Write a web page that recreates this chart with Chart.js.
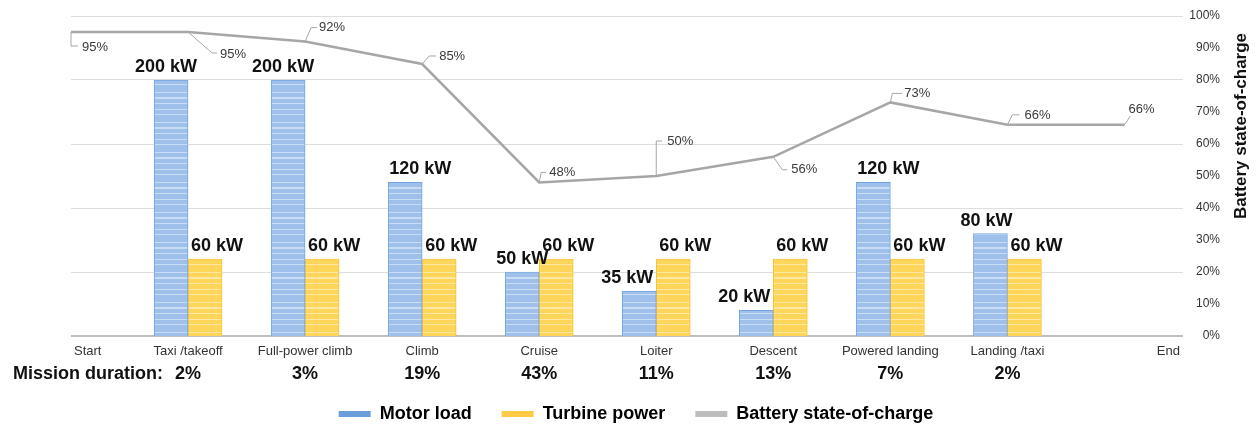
<!DOCTYPE html>
<html>
<head>
<meta charset="utf-8">
<script src="https://cdn.jsdelivr.net/npm/chart.js@4/dist/chart.umd.min.js"></script>
<style>
  html, body { margin: 0; padding: 0; background: #fff; }
  canvas { display: block; }
</style>
</head>
<body>
<canvas id="chart" width="1256" height="425"></canvas>
<script>
const PHASES = [
  'Start',
  'Taxi /takeoff',
  'Full-power climb',
  'Climb',
  'Cruise',
  'Loiter',
  'Descent',
  'Powered landing',
  'Landing /taxi',
  'End',
];
const DURATION = ['', '2%', '3%', '19%', '43%', '11%', '13%', '7%', '2%', ''];
const MOTOR_LOAD = [null, 200, 200, 120, 50, 35, 20, 120, 80, null]; // kW
const TURBINE_POWER = [null, 60, 60, 60, 60, 60, 60, 60, 60, null]; // kW
const BATTERY_SOC = [95, 95, 92, 85, 48, 50, 56, 73, 66, 66]; // %
const SOC_TICKS = ['0%', '10%', '20%', '30%', '40%', '50%', '60%', '70%', '80%', '90%', '100%'];

const FONT = "'Liberation Sans', Arial, Helvetica, sans-serif";
Chart.defaults.font.family = FONT;

// little horizontal-stripe fill like the scanned excel bars
const stripes = (base, light) => {
  const c = document.createElement('canvas');
  c.width = 8;
  c.height = 30;
  const g = c.getContext('2d');
  g.fillStyle = base;
  g.fillRect(0, 0, 8, 30);
  g.fillStyle = light;
  [2, 7, 8, 13, 19, 24].forEach((y) => g.fillRect(0, y, 8, 1));
  return g.createPattern(c, 'repeat');
};

// callout layout for the state-of-charge labels: [elbowDx, elbowDy, leaderLen, textDx, textDy]
const SOC_CALLOUTS = [
  [0, 14, 7, 4, 1],
  [24, 21, 5, 3, 1],
  [6, -14, 6, 2, 0],
  [7, -8, 7, 3, 0],
  [2, -10, 5, 3, 0],
  [0, -35, 6, 5, 0],
  [9, 13, 5, 4, 0],
  [2, -9, 10, 2, 0],
  [5, -10, 7, 5, 1],
  [6, -9, 0, -2, -6],
];
// nudges of the motor load value labels
const MOTOR_LABEL_DX = [0, -5, -5, 15, 0, -12, -12, 15, -4, 0];

const labelsPlugin = {
  id: 'missionLabels',
  afterDatasetsDraw(chart) {
    const { ctx } = chart;
    ctx.save();

    // power values above the bars
    ctx.font = `bold 18px ${FONT}`;
    ctx.fillStyle = '#111';
    ctx.textAlign = 'center';
    ctx.textBaseline = 'middle';
    [0, 1].forEach((di) => {
      const src = di === 0 ? MOTOR_LOAD : TURBINE_POWER;
      chart.getDatasetMeta(di).data.forEach((bar, i) => {
        if (src[i] == null) return;
        const dx = di === 0 ? MOTOR_LABEL_DX[i] : 12;
        ctx.fillText(`${src[i]} kW`, bar.x + dx, bar.y - 13);
      });
    });

    // battery callouts
    ctx.font = `13px ${FONT}`;
    ctx.textAlign = 'left';
    ctx.strokeStyle = '#a6a6a6';
    ctx.lineWidth = 1;
    chart.getDatasetMeta(2).data.forEach((pt, i) => {
      const [ex, ey, len, tx, ty] = SOC_CALLOUTS[i];
      const x1 = pt.x + ex;
      const y1 = pt.y + ey;
      ctx.beginPath();
      ctx.moveTo(pt.x, pt.y);
      ctx.lineTo(x1, y1);
      ctx.lineTo(x1 + len, y1);
      ctx.stroke();
      ctx.fillStyle = '#3a3a3a';
      ctx.fillText(`${BATTERY_SOC[i]}%`, x1 + len + tx, y1 + ty);
    });
    ctx.restore();
  },
  afterDraw(chart) {
    const { ctx, chartArea, scales: { x } } = chart;
    ctx.save();
    ctx.textBaseline = 'middle';

    ctx.font = `13px ${FONT}`;
    ctx.fillStyle = '#333';
    PHASES.forEach((name, i) => {
      let px = x.getPixelForValue(i);
      if (i === 0) {
        ctx.textAlign = 'left';
        px += 3;
      } else if (i === PHASES.length - 1) {
        ctx.textAlign = 'right';
        px = chartArea.right - 3;
      } else {
        ctx.textAlign = 'center';
      }
      ctx.fillText(name, px, chartArea.bottom + 15);
    });

    ctx.font = `bold 18px ${FONT}`;
    ctx.fillStyle = '#111';
    ctx.textAlign = 'left';
    ctx.fillText('Mission duration:', 13, chartArea.bottom + 38);
    ctx.textAlign = 'center';
    DURATION.forEach((d, i) => {
      if (d) ctx.fillText(d, x.getPixelForValue(i), chartArea.bottom + 38);
    });

    // right axis title, reading bottom to top
    ctx.translate(1241, 126);
    ctx.rotate(-Math.PI / 2);
    ctx.font = `bold 17px ${FONT}`;
    ctx.fillText('Battery state-of-charge', 0, 0);
    ctx.restore();
  },
};

const toPoints = (arr) => arr.map((v, i) => ({ x: i, y: v }));

const ctx = document.getElementById('chart').getContext('2d');
new Chart(ctx, {
  type: 'bar',
  data: {
    datasets: [
      {
        label: 'Motor load',
        data: toPoints(MOTOR_LOAD),
        backgroundColor: stripes('#9ec0ea', '#c9ddf4'),
        borderColor: '#74a5df',
        borderWidth: 1,
        barThickness: 34,
        yAxisID: 'y',
        order: 1,
      },
      {
        label: 'Turbine power',
        data: toPoints(TURBINE_POWER),
        backgroundColor: stripes('#ffd659', '#ffe8a3'),
        borderColor: '#f7c235',
        borderWidth: 1,
        barThickness: 34,
        yAxisID: 'y',
        order: 1,
      },
      {
        type: 'line',
        label: 'Battery state-of-charge',
        data: toPoints(BATTERY_SOC),
        borderColor: '#a6a6a6',
        backgroundColor: '#a6a6a6',
        borderWidth: 2.5,
        pointRadius: 0,
        tension: 0,
        yAxisID: 'y1',
        order: 0,
      },
    ],
  },
  options: {
    responsive: false,
    animation: false,
    devicePixelRatio: 1,
    layout: { padding: { left: 52, top: 16, right: 36, bottom: 0 } },
    scales: {
      x: {
        type: 'linear',
        min: 0,
        max: 9.5,
        offset: false,
        ticks: { display: false },
        grid: { display: false },
        border: { display: false },
        afterFit(scale) {
          scale.height = 39;
        },
      },
      // power axis is hidden in the original, only used to size the bars
      y: {
        min: 0,
        max: 250,
        ticks: { display: false },
        grid: { display: false },
        border: { display: false },
        afterFit(scale) {
          scale.width = 19;
        },
      },
      y1: {
        position: 'right',
        min: 0,
        max: 100,
        ticks: {
          stepSize: 10,
          padding: 6,
          crossAlign: 'far',
          color: '#333',
          font: { size: 12 },
          callback: (v, i) => SOC_TICKS[i],
        },
        grid: {
          drawTicks: false,
          color: (c) => (c.tick.value === 0 ? '#bdbdbd' : c.tick.value % 20 === 0 ? '#dedede' : 'rgba(0,0,0,0)'),
          lineWidth: (c) => (c.tick.value === 0 ? 2 : 1),
        },
        border: { display: false },
        afterFit(scale) {
          scale.width = 37;
        },
      },
    },
    plugins: {
      tooltip: { enabled: false },
      legend: {
        position: 'bottom',
        maxHeight: 50,
        labels: {
          boxWidth: 32,
          boxHeight: 6,
          padding: 30,
          color: '#111',
          font: { size: 18, weight: 'bold' },
          generateLabels: () => [
            { text: 'Motor load', fillStyle: '#6a9fda', strokeStyle: '#6a9fda', lineWidth: 0, datasetIndex: 0 },
            { text: 'Turbine power', fillStyle: '#ffcb45', strokeStyle: '#ffcb45', lineWidth: 0, datasetIndex: 1 },
            { text: 'Battery state-of-charge', fillStyle: '#bdbdbd', strokeStyle: '#bdbdbd', lineWidth: 0, datasetIndex: 2 },
          ],
        },
      },
    },
  },
  plugins: [labelsPlugin],
});
</script>
</body>
</html>
